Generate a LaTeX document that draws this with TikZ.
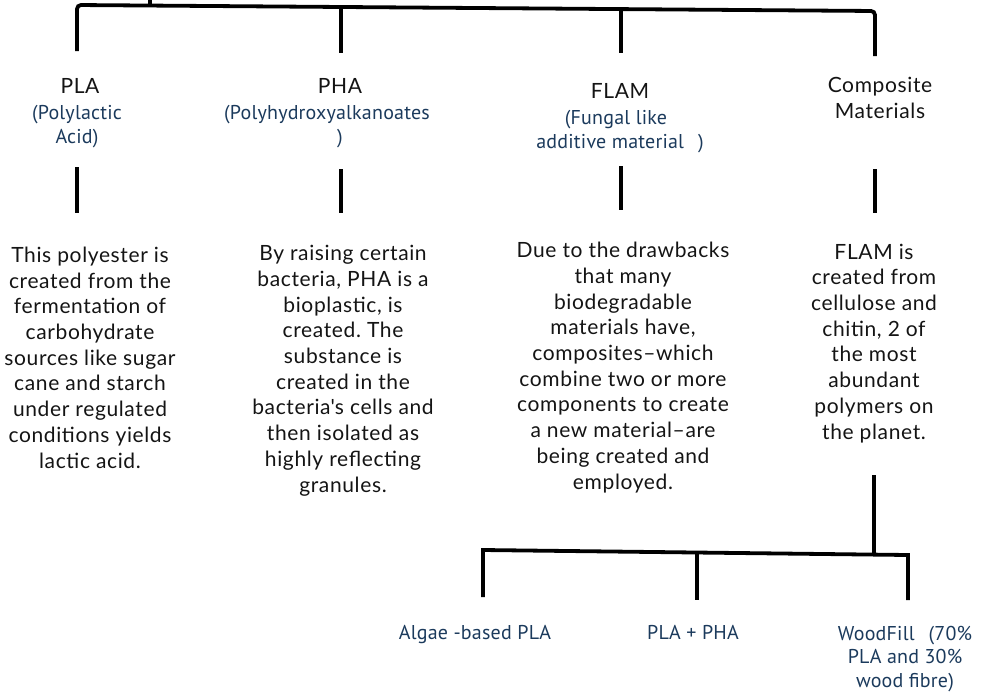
\documentclass[tikz,border=0pt]{standalone}
\usepackage{fontspec}
\setmainfont{Lato}[LetterSpace=3]
\newfontfamily\bluefont{PT Sans}[LetterSpace=1]
\definecolor{navy}{HTML}{1B3A5C}
\definecolor{ink}{HTML}{141414}
\frenchspacing
\tikzset{
  bar/.style={line width=3.8pt, draw=black},
  ttl/.style={font=\fontsize{21}{26}\selectfont, text=ink, align=center, inner sep=0pt, anchor=base},
  sub/.style={font=\bluefont\fontsize{20}{23.5}\selectfont, text=navy, align=center, inner sep=0pt, anchor=base},
  desc/.style={font=\fontsize{21}{25.7}\selectfont, text=ink, align=center, inner sep=0pt, anchor=base},
}
\begin{document}
\begin{tikzpicture}[x=1pt,y=-1pt]
\useasboundingbox (0,0) rectangle (985,691);
% top bracket
\coordinate (stub) at (150,-5);
\coordinate (stubB) at (150,6);
\coordinate (tl) at (77,5);
\coordinate (tr) at (875,11);
\coordinate (a1) at (77,51);
\coordinate (b0) at (341,7);
\coordinate (b1) at (341,53);
\coordinate (c0) at (621,9);
\coordinate (c1) at (621,53);
\coordinate (d1) at (875,56);
\draw[bar, rounded corners=4pt] (a1) -- (tl) -- (tr) -- (d1);
\draw[bar] (stub) -- (stubB);
\draw[bar] (b0) -- (b1);
\draw[bar] (c0) -- (c1);
% titles (multi-line nodes: y = baseline of last line)
\node[ttl] (plaT) at (80,93) {PLA};
\node[sub] (plaS) at (77,143) {(Polylactic\\Acid)};
\node[ttl] (phaT) at (340,93) {PHA};
\node[sub] (phaS) at (340,143) {(Polyhydroxyalkanoates\hspace*{26pt}\\)};
\node[ttl] (flamT) at (620,98) {FLAM};
\node[sub] (flamS) at (620,148) {(Fungal like\hspace*{8pt}\\additive material\hspace*{14pt})};
\node[ttl] (compT) at (880,118) {Composite\\Materials};
% second level bars
\coordinate (a2) at (77,167); \coordinate (a3) at (77,213);
\coordinate (b2) at (341,169); \coordinate (b3) at (341,213);
\coordinate (c2) at (621,166); \coordinate (c3) at (621,210);
\coordinate (d2) at (875,169); \coordinate (d3) at (875,213);
\draw[bar] (a2) -- (a3);
\draw[bar] (b2) -- (b3);
\draw[bar] (c2) -- (c3);
\draw[bar] (d2) -- (d3);
% descriptions
\node[desc] (plaD) at (90,468) {This polyester is\\created from the\\fermentation of\\carbohydrate\\sources like sugar\\cane and starch\\under regulated\\conditions yields\\lactic acid.};
\node[desc] (phaD) at (343,492) {By raising certain\\bacteria, PHA is a\\bioplastic, is\\created. The\\substance is\\created in the\\bacteria\textquotesingle s cells and\\then isolated as\\highly reflecting\\granules.};
\node[desc] (flamD) at (623,489) {Due to the drawbacks\\that many\\biodegradable\\materials have,\\composites\textendash which\\combine two or more\\components to create\\a new material\textendash are\\being created and\\employed.};
\node[desc] (compD) at (874,439) {FLAM is\\created from\\cellulose and\\chitin, 2 of\\the most\\abundant\\polymers on\\the planet.};
% lower bracket
\coordinate (e0) at (874,475);
\coordinate (e1) at (874,553);
\coordinate (bl) at (483,550);
\coordinate (br) at (908,555);
\coordinate (f1) at (483,597);
\coordinate (g0) at (697,552);
\coordinate (g1) at (697,600);
\coordinate (h1) at (908,600);
\draw[bar] (e0) -- (e1);
\draw[bar] (f1) -- (bl) -- (br) -- (h1);
\draw[bar] (g0) -- (g1);
% bottom labels
\node[sub] (alg) at (475,639) {Algae -based PLA};
\node[sub] (plapha) at (693,639) {PLA + PHA};
\node[sub] (wood) at (905,687) {WoodFill\hspace{0.7em}(70\%\\PLA and 30\%\\wood fibre)};
\end{tikzpicture}
\end{document}
